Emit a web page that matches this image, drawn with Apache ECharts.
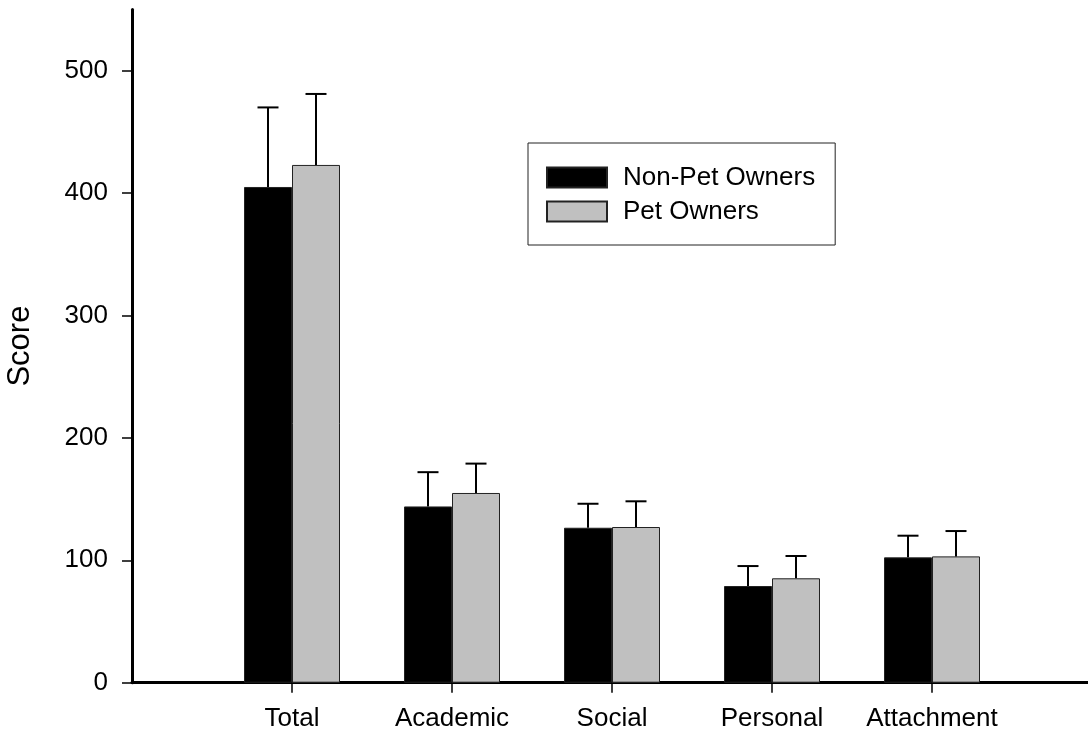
<!DOCTYPE html>
<html>
<head>
<meta charset="utf-8">
<script src="https://cdn.jsdelivr.net/npm/echarts@6/dist/echarts.min.js"></script>
<style>
  html, body { margin: 0; padding: 0; background: #fff; }
  #chart { width: 1088px; height: 733px; }
</style>
</head>
<body>
<div id="chart"></div>
<script>
// Subscale categories and group means with upper error (SD)
const categories = ['Total', 'Academic', 'Social', 'Personal', 'Attachment'];
const nonPetMeans = [405, 144, 126.6, 79, 102.4];
const nonPetErr = [65, 28, 19.6, 16.3, 17.7];
const petMeans = [423, 155, 127.2, 85.3, 103.2];
const petErr = [58, 24, 21, 18.2, 20.7];
const yTicks = [0, 100, 200, 300, 400, 500];

const FONT = 'Liberation Sans, Arial, sans-serif';
const positions = categories.map((c, i) => i + 1);

function barData(values) {
  return values.map((v, i) => [positions[i], v]);
}
function errData(values, errs) {
  return values.map((v, i) => [positions[i], v, errs[i]]);
}

// Upper error bar: a stem from the bar top plus a horizontal cap
function errorBarRenderer(offsetPx) {
  return function (params, api) {
    const x = api.value(0), y = api.value(1), e = api.value(2);
    const p0 = api.coord([x, y]);
    const p1 = api.coord([x, y + e]);
    const cx = p0[0] + offsetPx;
    const style = { stroke: '#000', lineWidth: 2 };
    return {
      type: 'group',
      children: [
        { type: 'line', shape: { x1: cx, y1: p0[1], x2: cx, y2: p1[1] }, style },
        { type: 'line', shape: { x1: cx - 10.5, y1: p1[1], x2: cx + 10.5, y2: p1[1] }, style }
      ]
    };
  };
}

const chart = echarts.init(document.getElementById('chart'), null, { renderer: 'canvas' });
chart.setOption({
  animation: false,
  backgroundColor: '#fff',
  textStyle: { fontFamily: FONT },
  grid: { left: 132, right: -4, top: 9.5, bottom: 50.3, containLabel: false, outerBoundsMode: 'none' },
  legend: {
    orient: 'vertical',
    left: 528,
    top: 143,
    padding: [21.5, 20, 20.5, 18],
    itemWidth: 60,
    itemHeight: 20,
    itemGap: 8,
    borderColor: '#222',
    borderWidth: 1,
    icon: 'rect',
    textStyle: { fontFamily: FONT, fontSize: 26, color: '#000', padding: [0, 0, 0, 11] },
    data: ['Non-Pet Owners', 'Pet Owners']
  },
  xAxis: {
    type: 'value',
    min: 0,
    max: 6,
    splitLine: { show: false },
    axisLine: { show: true, onZero: false, lineStyle: { color: '#000', width: 3 } },
    axisTick: { show: true, customValues: positions, length: 10, lineStyle: { color: '#000', width: 1.5 } },
    axisLabel: {
      customValues: positions,
      formatter: v => categories[Math.round(v) - 1] || '',
      fontFamily: FONT, fontSize: 26, color: '#000', margin: 23
    }
  },
  yAxis: {
    type: 'value',
    min: 0,
    max: 550,
    name: 'Score',
    nameLocation: 'middle',
    nameGap: 96,
    nameRotate: 90,
    nameTextStyle: { fontFamily: FONT, fontSize: 31, color: '#000' },
    splitLine: { show: false },
    axisLine: { show: true, onZero: false, lineStyle: { color: '#000', width: 3 } },
    axisTick: { show: true, customValues: yTicks, length: 10, lineStyle: { color: '#000', width: 1.5 } },
    axisLabel: { customValues: yTicks, fontFamily: FONT, fontSize: 26, color: '#000', margin: 24 }
  },
  series: [
    {
      name: 'Non-Pet Owners',
      type: 'bar',
      barWidth: 48,
      barGap: '0%',
      itemStyle: { color: '#000', borderColor: '#222', borderWidth: 1 },
      data: barData(nonPetMeans)
    },
    {
      name: 'Pet Owners',
      type: 'bar',
      barWidth: 48,
      barGap: '0%',
      itemStyle: { color: '#c0c0c0', borderColor: '#222', borderWidth: 1 },
      data: barData(petMeans)
    },
    {
      name: 'Non-Pet Owners SD',
      type: 'custom',
      z: 5,
      renderItem: errorBarRenderer(-24),
      data: errData(nonPetMeans, nonPetErr),
      tooltip: { show: false }
    },
    {
      name: 'Pet Owners SD',
      type: 'custom',
      z: 5,
      renderItem: errorBarRenderer(24),
      data: errData(petMeans, petErr),
      tooltip: { show: false }
    }
  ]
});
</script>
</body>
</html>
